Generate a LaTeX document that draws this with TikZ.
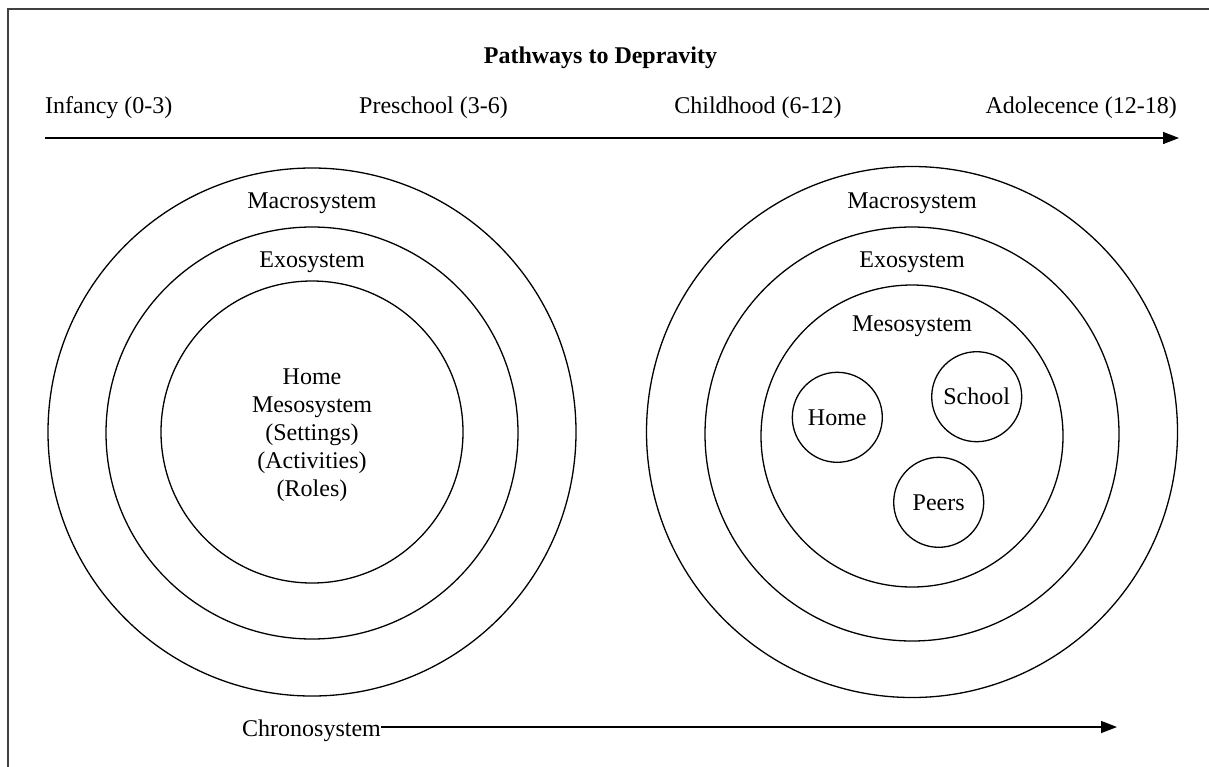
\documentclass[tikz,border=0pt]{standalone}
\usepackage{fontspec}
\setmainfont{Liberation Serif}
\usetikzlibrary{arrows.meta}
\begin{document}
\begin{tikzpicture}[x=1pt,y=-1pt,
  ring/.style={draw, circle, line width=1.3pt, inner sep=0pt, minimum size=#1},
  lbl/.style={font=\fontsize{24}{28}\selectfont, inner sep=0pt},
  ttl/.style={font=\fontsize{24}{28}\selectfont\bfseries, inner sep=0pt},
  arr/.style={line width=1.3pt, -{Triangle[length=16pt,width=12pt]}}]
\useasboundingbox (0,0) rectangle (1209,766);
\draw[line width=1.2pt, black!75] (8,790) -- (8,9) -- (1230,9);
% title and ages
\node[ttl, anchor=base] (title) at (600.5,63) {Pathways to Depravity};
\node[lbl, anchor=base west] (inf) at (45,113) {Infancy (0-3)};
\node[lbl, anchor=base] (pre) at (433.5,113) {Preschool (3-6)};
\node[lbl, anchor=base] (chi) at (758,113) {Childhood (6-12)};
\node[lbl, anchor=base east] (ado) at (1177,113) {Adolecence (12-18)};
\coordinate (ta) at (45,138);
\coordinate (tb) at (1179,138);
\draw[arr] (ta) -- (tb);
% left system
\node[ring=528pt] (lmacro) at (312,432) {};
\node[ring=412pt] (lexo) at (312,433) {};
\node[ring=302pt] (lmeso) at (312,432) {};
\node[lbl, anchor=base] (lmacrot) at (312,208) {Macrosystem};
\node[lbl, anchor=base] (lexot) at (312,267) {Exosystem};
\node[lbl, anchor=base, align=center] (lmesot) at (312,496.5) {Home\\Mesosystem\\(Settings)\\(Activities)\\(Roles)};
% right system
\node[ring=531pt] (rmacro) at (912,432) {};
\node[ring=414pt] (rexo) at (912,434) {};
\node[ring=302pt] (rmeso) at (912,436) {};
\node[lbl, anchor=base] (rmacrot) at (912,208) {Macrosystem};
\node[lbl, anchor=base] (rexot) at (912,267) {Exosystem};
\node[lbl, anchor=base] (rmesot) at (912,331) {Mesosystem};
\node[ring=90pt, lbl] (home) at (837.3,417.3) {Home};
\node[ring=90pt, lbl] (school) at (976.7,396.7) {School};
\node[ring=90pt, lbl] (peers) at (938.7,502.3) {Peers};
% chronosystem
\node[lbl, anchor=base west] (chrono) at (242,736) {Chronosystem};
\coordinate (cend) at (1117,727);
\draw[arr] (chrono.east |- cend) -- (cend);
\end{tikzpicture}
\end{document}
